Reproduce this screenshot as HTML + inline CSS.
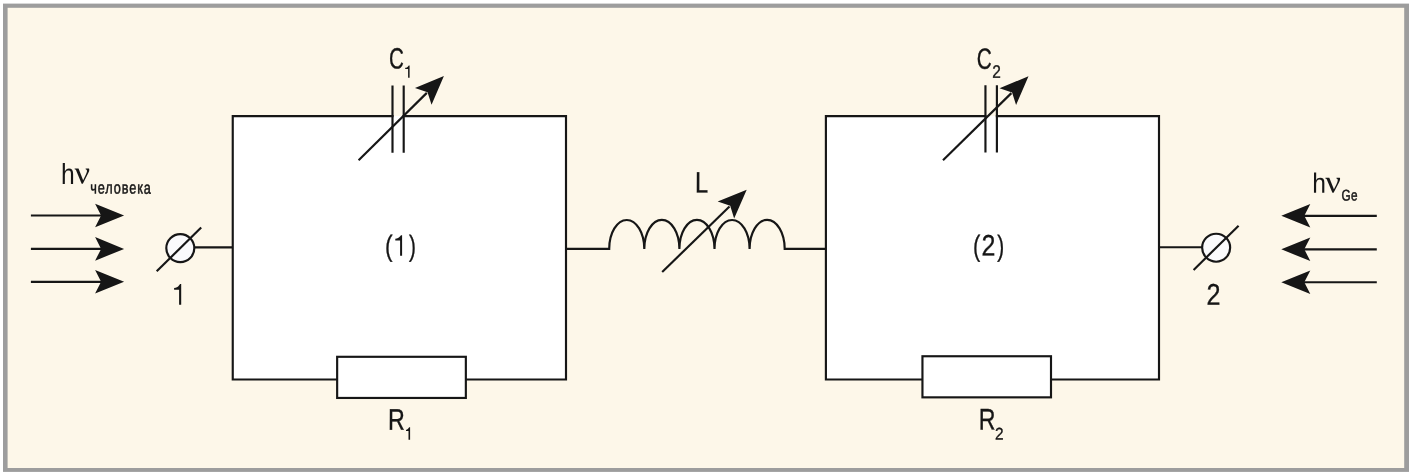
<!DOCTYPE html>
<html><head><meta charset="utf-8"><style>html,body{margin:0;padding:0;background:#fff;width:1413px;height:476px;overflow:hidden}</style></head><body><svg width="1413" height="476" viewBox="0 0 1413 476" style="display:block;will-change:transform"><rect x="0" y="0" width="1413" height="476" fill="#ffffff"/>
<rect x="3" y="3.6" width="1406" height="468.3" fill="#9d9d9d"/>
<rect x="7.6" y="7.8" width="1396.6" height="460.2" fill="#fdf7e9"/>
<rect x="232.75" y="116.05" width="333.25" height="263.45" fill="#ffffff"/><path d="M392.50,116.05 L232.75,116.05 M403.70,116.05 L566.00,116.05 L566.00,379.50 L232.75,379.50 L232.75,116.05" fill="none" stroke="#161616" stroke-width="2.15" stroke-linecap="square"/>
<rect x="825.90" y="116.05" width="333.10" height="263.40" fill="#ffffff"/><path d="M985.45,116.05 L825.90,116.05 M996.90,116.05 L1159.00,116.05 L1159.00,379.45 L825.90,379.45 L825.90,116.05" fill="none" stroke="#161616" stroke-width="2.15" stroke-linecap="square"/>
<rect x="337.15" y="356.80" width="128.70" height="41.15" fill="#ffffff" stroke="#161616" stroke-width="2.15"/>
<rect x="922.45" y="356.25" width="128.55" height="41.10" fill="#ffffff" stroke="#161616" stroke-width="2.15"/>
<path d="M392.50,85.40 V152.70 M403.70,85.40 V152.70" stroke="#161616" stroke-width="2.15" fill="none"/>
<path d="M985.45,85.20 V152.60 M996.90,85.20 V152.60" stroke="#161616" stroke-width="2.15" fill="none"/>
<line x1="358.60" y1="160.20" x2="426.82" y2="92.86" stroke="#161616" stroke-width="2.15"/><path d="M443.90,76.00 L431.55,104.77 L427.53,92.16 L414.97,87.97 Z" fill="#161616"/>
<line x1="943.00" y1="160.30" x2="1011.38" y2="93.12" stroke="#161616" stroke-width="2.15"/><path d="M1028.50,76.30 L1016.08,105.04 L1012.09,92.42 L999.54,88.21 Z" fill="#161616"/>
<line x1="194.00" y1="247.30" x2="232.75" y2="247.30" stroke="#161616" stroke-width="2.15"/><circle cx="180.30" cy="248.15" r="14.00" fill="#fafafc" stroke="#161616" stroke-width="2.15"/><line x1="156.70" y1="271.20" x2="201.20" y2="227.60" stroke="#161616" stroke-width="2.15"/>
<line x1="1159.00" y1="247.20" x2="1202.00" y2="247.20" stroke="#161616" stroke-width="2.15"/><circle cx="1216.15" cy="247.70" r="14.00" fill="#fafafc" stroke="#161616" stroke-width="2.15"/><line x1="1193.60" y1="269.90" x2="1238.60" y2="225.70" stroke="#161616" stroke-width="2.15"/>
<path d="M565.75,248.90 L609.20,248.90 A17.55,29 0 0 1 644.30,248.90 A17.55,29 0 0 1 679.40,248.90 A17.55,29 0 0 1 714.50,248.90 A17.55,29 0 0 1 749.60,248.90 A17.55,29 0 0 1 784.70,248.90 L825.9,248.90" fill="none" stroke="#161616" stroke-width="2.15"/>
<line x1="662.20" y1="272.00" x2="729.50" y2="206.53" stroke="#161616" stroke-width="2.15"/><path d="M746.70,189.80 L734.14,218.48 L730.21,205.84 L717.68,201.56 Z" fill="#161616"/>
<line x1="30.9" y1="215.50" x2="102" y2="215.50" stroke="#161616" stroke-width="2.15"/>
<path d="M124.10,215.50 L95.10,227.30 L101.10,215.50 L95.10,203.70 Z" fill="#161616"/>
<line x1="30.9" y1="248.90" x2="102" y2="248.90" stroke="#161616" stroke-width="2.15"/>
<path d="M124.10,248.90 L95.10,260.70 L101.10,248.90 L95.10,237.10 Z" fill="#161616"/>
<line x1="30.9" y1="281.80" x2="102" y2="281.80" stroke="#161616" stroke-width="2.15"/>
<path d="M124.10,281.80 L95.10,293.60 L101.10,281.80 L95.10,270.00 Z" fill="#161616"/>
<line x1="1303" y1="215.80" x2="1376.8" y2="215.80" stroke="#161616" stroke-width="2.15"/>
<path d="M1281.30,215.80 L1310.30,204.00 L1304.30,215.80 L1310.30,227.60 Z" fill="#161616"/>
<line x1="1303" y1="249.30" x2="1376.8" y2="249.30" stroke="#161616" stroke-width="2.15"/>
<path d="M1281.30,249.30 L1310.30,237.50 L1304.30,249.30 L1310.30,261.10 Z" fill="#161616"/>
<line x1="1303" y1="282.20" x2="1376.8" y2="282.20" stroke="#161616" stroke-width="2.15"/>
<path d="M1281.30,282.20 L1310.30,270.40 L1304.30,282.20 L1310.30,294.00 Z" fill="#161616"/>
<path d="M181.20,284.10 L181.20,304.70 L179.10,304.70 L179.10,289.70 L174.10,289.75 L174.10,287.90 L175.60,287.80 C177.60,287.55 178.89,285.75 180.04,284.10 Z" fill="#161616"/>
<path d="M402.10,235.30 L402.10,255.80 L400.10,255.80 L400.10,240.55 L395.30,240.60 L395.30,238.65 L396.74,238.55 C398.66,238.30 399.90,236.81 401.00,235.30 Z" fill="#161616"/>
<path d="M409.60,65.40 L409.60,77.70 L408.10,77.70 L408.10,69.05 L405.20,69.10 L405.20,67.75 L406.07,67.65 C407.23,67.40 407.95,66.45 408.78,65.40 Z" fill="#161616"/>
<path d="M410.10,427.20 L410.10,439.70 L408.50,439.70 L408.50,431.05 L406.00,431.10 L406.00,429.75 L406.75,429.65 C407.75,429.40 408.34,428.32 409.22,427.20 Z" fill="#161616"/>
<text transform="translate(389.12,68.59) scale(0.10275,0.14703) rotate(0.2)" font-family="Liberation Sans" font-size="200" fill="#161616" stroke="#161616" stroke-width="2.38">C</text>
<text transform="translate(976.86,68.64) scale(0.10397,0.14660) rotate(0.2)" font-family="Liberation Sans" font-size="200" fill="#161616" stroke="#161616" stroke-width="2.39">C</text>
<text transform="translate(992.18,77.66) scale(0.07714,0.08956) rotate(0.2)" font-family="Liberation Sans" font-size="200" fill="#161616" stroke="#161616" stroke-width="3.91">2</text>
<text transform="translate(694.95,192.62) scale(0.11801,0.14711) rotate(0.2)" font-family="Liberation Sans" font-size="200" fill="#161616" stroke="#161616" stroke-width="2.38">L</text>
<text transform="translate(388.11,429.67) scale(0.11628,0.14912) rotate(0.2)" font-family="Liberation Sans" font-size="200" fill="#161616" stroke="#161616" stroke-width="2.35">R</text>
<text transform="translate(978.70,429.58) scale(0.11571,0.14905) rotate(0.2)" font-family="Liberation Sans" font-size="200" fill="#161616" stroke="#161616" stroke-width="2.35">R</text>
<text transform="translate(994.97,439.42) scale(0.07691,0.08437) rotate(0.2)" font-family="Liberation Sans" font-size="200" fill="#161616" stroke="#161616" stroke-width="4.15">2</text>
<text transform="translate(1206.57,304.63) scale(0.12557,0.15001) rotate(0.2)" font-family="Liberation Sans" font-size="200" fill="#161616" stroke="#161616" stroke-width="2.33">2</text>
<text transform="translate(60.94,183.96) scale(0.12309,0.14458) rotate(0.2)" font-family="Liberation Sans" font-size="200" fill="#161616" stroke="#161616" stroke-width="0.00">h</text>
<text transform="translate(74.56,183.58) scale(0.17188,0.16261) rotate(0.2)" font-family="Liberation Serif" font-size="200" fill="#161616" stroke="#161616" stroke-width="0.00">ν</text>
<text transform="translate(90.30,193.38) scale(0.06349,0.08543) rotate(0.2)" font-family="Liberation Sans" font-size="200" fill="#161616" stroke="#161616" stroke-width="5.85" letter-spacing="14">человека</text>
<text transform="translate(1312.20,192.74) scale(0.12296,0.14069) rotate(0.2)" font-family="Liberation Sans" font-size="200" fill="#161616" stroke="#161616" stroke-width="0.00">h</text>
<text transform="translate(1325.14,192.46) scale(0.17265,0.16026) rotate(0.2)" font-family="Liberation Serif" font-size="200" fill="#161616" stroke="#161616" stroke-width="0.00">ν</text>
<text transform="translate(1341.43,200.44) scale(0.05871,0.07777) rotate(0.2)" font-family="Liberation Sans" font-size="200" fill="#161616" stroke="#161616" stroke-width="6.43" letter-spacing="8">Ge</text>
<text transform="translate(384.91,255.77) scale(0.11295,0.14490) rotate(0.2)" font-family="Liberation Sans" font-size="200" fill="#161616" stroke="#161616" stroke-width="2.42">(</text>
<text transform="translate(409.01,255.81) scale(0.10398,0.14454) rotate(0.2)" font-family="Liberation Sans" font-size="200" fill="#161616" stroke="#161616" stroke-width="2.42">)</text>
<text transform="translate(972.92,255.77) scale(0.10835,0.14481) rotate(0.2)" font-family="Liberation Sans" font-size="200" fill="#161616" stroke="#161616" stroke-width="2.42">(</text>
<text transform="translate(997.13,255.81) scale(0.10431,0.14463) rotate(0.2)" font-family="Liberation Sans" font-size="200" fill="#161616" stroke="#161616" stroke-width="2.42">)</text>
<text transform="translate(981.41,255.59) scale(0.12473,0.14804) rotate(0.2)" font-family="Liberation Sans" font-size="200" fill="#161616" stroke="#161616" stroke-width="2.36">2</text></svg></body></html>
